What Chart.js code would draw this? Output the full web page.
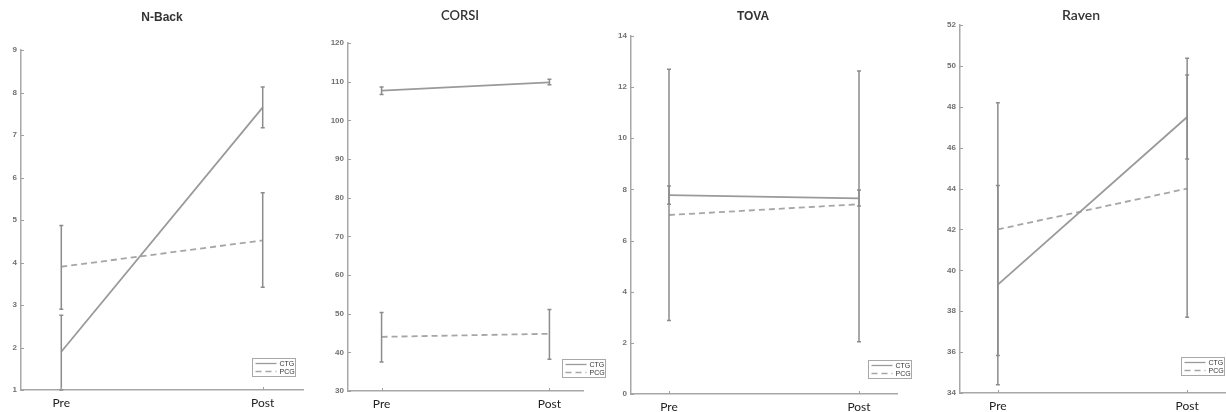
<!DOCTYPE html>
<html>
<head>
<meta charset="utf-8">
<script src="https://cdn.jsdelivr.net/npm/chart.js@4"></script>
<style>
  body { margin: 0; background: #fff; width: 1226px; height: 412px; position: relative; overflow: hidden; }
  canvas { position: absolute; top: 0; }
</style>
</head>
<body>
<canvas id="c0"></canvas>
<canvas id="c1"></canvas>
<canvas id="c2"></canvas>
<canvas id="c3"></canvas>
<script>
const phases = ["Pre", "Post"];
const phaseX = [1, 2];
const groups = ["CTG", "PCG"];

// N-Back
const nbackCtg = [1.9, 7.65];
const nbackCtgLow = [1.0, 7.17];
const nbackCtgHigh = [2.76, 8.13];
const nbackPcg = [3.9, 4.52];
const nbackPcgLow = [2.9, 3.42];
const nbackPcgHigh = [4.87, 5.64];
const nbackAxis = [1, 9, 1];

// CORSI
const corsiCtg = [107.7, 109.8];
const corsiCtgLow = [106.7, 109.2];
const corsiCtgHigh = [108.6, 110.6];
const corsiPcg = [44.0, 44.8];
const corsiPcgLow = [37.5, 38.2];
const corsiPcgHigh = [50.3, 51.1];
const corsiAxis = [30, 120, 10];

// TOVA
const tovaCtg = [7.78, 7.65];
const tovaCtgLow = [7.42, 7.35];
const tovaCtgHigh = [8.13, 7.98];
const tovaPcg = [7.0, 7.42];
const tovaPcgLow = [2.87, 2.04];
const tovaPcgHigh = [12.7, 12.63];
const tovaAxis = [0, 14, 2];

// Raven
const ravenCtg = [39.3, 47.5];
const ravenCtgLow = [34.4, 45.45];
const ravenCtgHigh = [44.15, 49.56];
const ravenPcg = [42.0, 44.0];
const ravenPcgLow = [35.84, 37.7];
const ravenPcgHigh = [48.2, 50.37];
const ravenAxis = [34, 52, 2];

const panels = [
  { title: "N-Back", ctg: [nbackCtg, nbackCtgLow, nbackCtgHigh], pcg: [nbackPcg, nbackPcgLow, nbackPcgHigh], axis: nbackAxis,
    left: 0, width: 310, axisLeft: 21, axisRight: 303, top: 50, bottom: 390,
    titleX: 162, titleY: 18, titleFont: "bold 12px 'Liberation Sans', Arial", legX: 252, legY: 358 },
  { title: "CORSI", ctg: [corsiCtg, corsiCtgLow, corsiCtgHigh], pcg: [corsiPcg, corsiPcgLow, corsiPcgHigh], axis: corsiAxis,
    left: 310, width: 300, axisLeft: 348, axisRight: 583, top: 43, bottom: 391,
    titleX: 460, titleY: 16, titleFont: "600 13px Lato", legX: 562, legY: 359 },
  { title: "TOVA", ctg: [tovaCtg, tovaCtgLow, tovaCtgHigh], pcg: [tovaPcg, tovaPcgLow, tovaPcgHigh], axis: tovaAxis,
    left: 600, width: 315, axisLeft: 631, axisRight: 897, top: 36, bottom: 394,
    titleX: 753, titleY: 17, titleFont: "bold 12px 'Liberation Sans', Arial", legX: 868, legY: 360 },
  { title: "Raven", ctg: [ravenCtg, ravenCtgLow, ravenCtgHigh], pcg: [ravenPcg, ravenPcgLow, ravenPcgHigh], axis: ravenAxis,
    left: 915, width: 311, axisLeft: 960, axisRight: 1225, top: 25, bottom: 393,
    titleX: 1081, titleY: 15, titleFont: "600 14px Lato", legX: 1181, legY: 357 }
];

const errorBars = {
  id: "errorBars",
  afterDatasetsDraw(chart) {
    const { ctx, scales: { x, y } } = chart;
    chart.data.datasets.forEach(ds => {
      ctx.save();
      ctx.strokeStyle = "#8c8c8c";
      ctx.lineWidth = 1.5;
      ds.data.forEach((p, i) => {
        const px = x.getPixelForValue(p.x);
        const yl = y.getPixelForValue(ds.low[i]);
        const yh = y.getPixelForValue(ds.high[i]);
        ctx.beginPath();
        ctx.moveTo(px, yl); ctx.lineTo(px, yh);
        ctx.moveTo(px - 2, yl); ctx.lineTo(px + 2, yl);
        ctx.moveTo(px - 2, yh); ctx.lineTo(px + 2, yh);
        ctx.stroke();
      });
      ctx.restore();
    });
  }
};

const decor = {
  id: "decor",
  afterDraw(chart, args, o) {
    const { ctx, chartArea: a, scales: { x, y } } = chart;
    ctx.save();
    // inward ticks
    ctx.strokeStyle = "#a0a0a0";
    ctx.lineWidth = 1;
    ctx.beginPath();
    y.ticks.forEach(t => {
      const py = Math.round(y.getPixelForValue(t.value)) + 0.5;
      ctx.moveTo(a.left, py); ctx.lineTo(a.left + 3, py);
    });
    x.ticks.forEach(t => {
      const px = Math.round(x.getPixelForValue(t.value)) + 0.5;
      ctx.moveTo(px, a.bottom); ctx.lineTo(px, a.bottom - 3);
    });
    ctx.stroke();

    // title
    ctx.fillStyle = "#333";
    ctx.font = o.font;
    ctx.textAlign = "center";
    ctx.textBaseline = "middle";
    ctx.fillText(o.text, o.x, o.y);

    // legend box
    const lx = o.legX + 0.5, ly = o.legY + 0.5, lw = 43, lh = 18;
    ctx.fillStyle = "#fff";
    ctx.fillRect(lx, ly, lw, lh);
    ctx.strokeStyle = "#a8a8a8";
    ctx.strokeRect(lx, ly, lw, lh);
    chart.data.datasets.forEach((ds, i) => {
      const yy = ly + 5 + i * 8;
      ctx.strokeStyle = ds.borderColor;
      ctx.lineWidth = 1.3;
      ctx.setLineDash(ds.borderDash || []);
      ctx.beginPath();
      ctx.moveTo(lx + 3, yy); ctx.lineTo(lx + 24, yy);
      ctx.stroke();
      ctx.setLineDash([]);
      ctx.fillStyle = "#333";
      ctx.font = "7px 'Liberation Sans', Arial";
      ctx.textAlign = "left";
      ctx.fillText(ds.label, lx + 27, yy + 0.5);
    });
    ctx.restore();
  }
};

panels.forEach((p, k) => {
  const canvas = document.getElementById("c" + k);
  canvas.width = p.width;
  canvas.height = 412;
  canvas.style.left = p.left + "px";

  const series = [p.ctg, p.pcg];
  const datasets = series.map((s, i) => ({
    label: groups[i],
    data: phaseX.map((xv, j) => ({ x: xv, y: s[0][j] })),
    low: s[1],
    high: s[2],
    borderColor: i === 0 ? "#9a9a9a" : "#a6a6a6",
    borderWidth: 1.8,
    borderDash: i === 0 ? [] : [6, 4],
    pointRadius: 0,
    fill: false
  }));

  new Chart(canvas, {
    type: "line",
    data: { datasets },
    options: {
      responsive: false,
      animation: false,
      layout: { padding: { top: p.top, right: p.left + p.width - p.axisRight, left: 0, bottom: 0 } },
      scales: {
        x: {
          type: "linear",
          min: 0.8,
          max: 2.2,
          afterBuildTicks: s => { s.ticks = phaseX.map(v => ({ value: v })); },
          ticks: {
            callback: v => phases[phaseX.indexOf(v)],
            font: { family: "Lato", size: 12 },
            color: "#222",
            padding: 6,
            maxRotation: 0
          },
          grid: { display: false, drawTicks: false },
          border: { color: "#a8a8a8", width: 1.5 },
          afterFit: s => { s.height = 412 - p.bottom; }
        },
        y: {
          min: p.axis[0],
          max: p.axis[1],
          ticks: {
            stepSize: p.axis[2],
            font: { family: "'Liberation Sans', Arial", size: 8, weight: "bold" },
            color: "#707070",
            padding: 4
          },
          grid: { display: false, drawTicks: false },
          border: { color: "#a8a8a8", width: 1.5 },
          afterFit: s => { s.width = p.axisLeft - p.left; }
        }
      },
      plugins: {
        legend: { display: false },
        tooltip: { enabled: false },
        decor: {
          text: p.title, font: p.titleFont,
          x: p.titleX - p.left, y: p.titleY,
          legX: p.legX - p.left, legY: p.legY
        }
      }
    },
    plugins: [errorBars, decor]
  });
});
</script>
</body>
</html>
